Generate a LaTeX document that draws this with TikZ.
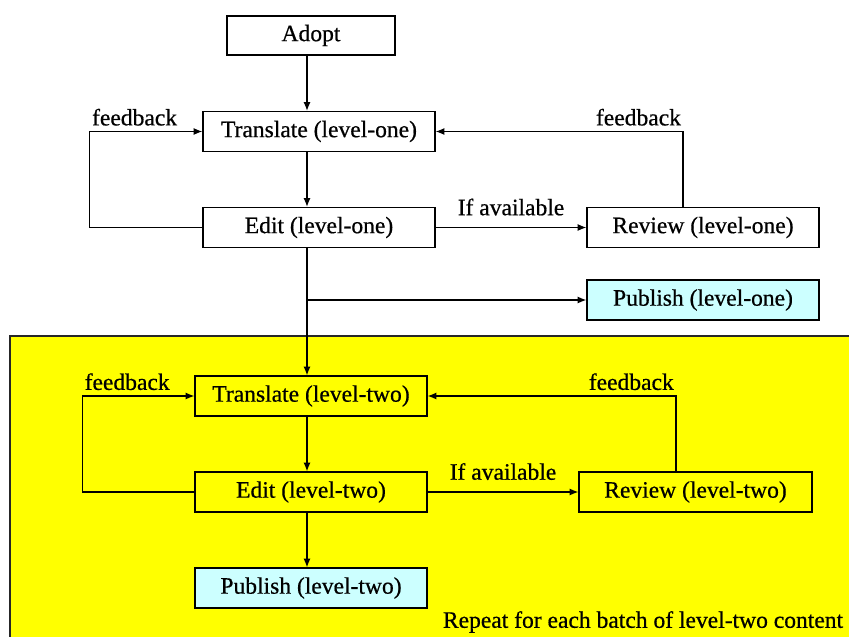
\documentclass[tikz,border=0pt]{standalone}
\usepackage{fontspec}
\setmainfont{Liberation Serif}[UprightFeatures={FakeBold=0.6}]
\usetikzlibrary{arrows.meta}
\definecolor{batchyellow}{HTML}{FFFF00}
\definecolor{pubblue}{HTML}{CCFFFF}

\begin{document}
\begin{tikzpicture}[scale=1.0,
		stage/.style={draw=black, line width=0.7pt, minimum width=4.64cm, minimum height=0.8cm, inner sep=0pt, font=\fontsize{13.4}{16}\selectfont},
		pub/.style={stage, fill=pubblue},
		lbl/.style={font=\fontsize{13.4}{16}\selectfont, inner sep=0pt},
		flow/.style={-{Latex[length=5pt,width=4pt]}, line width=0.7pt}]
			\useasboundingbox (0,0) rectangle (16.98,12.72);
			\clip (0,0) rectangle (16.98,12.72);
			% batch area
			\filldraw[fill=batchyellow, draw=black!85, line width=0.7pt] (0.2,-0.5) rectangle (17.5,6.0);
			% level one
			\node[stage, minimum width=3.36cm, minimum height=0.78cm] (adopt) at (6.22,12.01) {Adopt};
			\node[stage] (tr1) at (6.38,10.09) {Translate (level-one)};
			\node[stage] (ed1) at (6.38,8.17) {Edit (level-one)};
			\node[stage] (rv1) at (14.06,8.17) {Review (level-one)};
			\node[pub] (pb1) at (14.06,6.72) {Publish (level-one)};
			% level two
			\node[stage] (tr2) at (6.22,4.80) {Translate (level-two)};
			\node[stage] (ed2) at (6.22,2.88) {Edit (level-two)};
			\node[stage, minimum width=4.66cm] (rv2) at (13.91,2.88) {Review (level-two)};
			\node[pub] (pb2) at (6.22,0.96) {Publish (level-two)};
			\node[lbl] (repeat) at (12.86,0.28) {Repeat for each batch of level-two content};
			\coordinate (spine) at (6.14,0);
			\coordinate (split) at (6.14,6.72);
			\draw[flow] (adopt.south -| spine) -- (tr1.north -| spine);
			\draw[flow] (tr1.south -| spine) -- (ed1.north -| spine);
			\draw[flow] (ed1.south -| spine) -- (tr2.north -| spine);
			\draw[flow] (split) -- (pb1.west);
			\draw[flow] (ed1.east) -- node[lbl, midway, above=6.5pt] {If available} (rv1.west);
			\draw[flow] (ed1.west) -- ++(-2.26,0) |- node[lbl, pos=0.7, above=3pt] {feedback} (tr1.west);
			\draw[flow] ([xshift=-0.4cm]rv1.north) |- node[lbl, pos=0.59, above=3pt] {feedback} (tr1.east);
			\draw[flow] (tr2.south -| spine) -- (ed2.north -| spine);
			\draw[flow] (ed2.south -| spine) -- (pb2.north -| spine);
			\draw[flow] (ed2.east) -- node[lbl, midway, above=6.5pt] {If available} (rv2.west);
			\draw[flow] (ed2.west) -- ++(-2.24,0) |- node[lbl, pos=0.7, above=3pt] {feedback} (tr2.west);
			\draw[flow] ([xshift=-0.39cm]rv2.north) |- node[lbl, pos=0.59, above=3pt] {feedback} (tr2.east);
		\end{tikzpicture}
\end{document}
